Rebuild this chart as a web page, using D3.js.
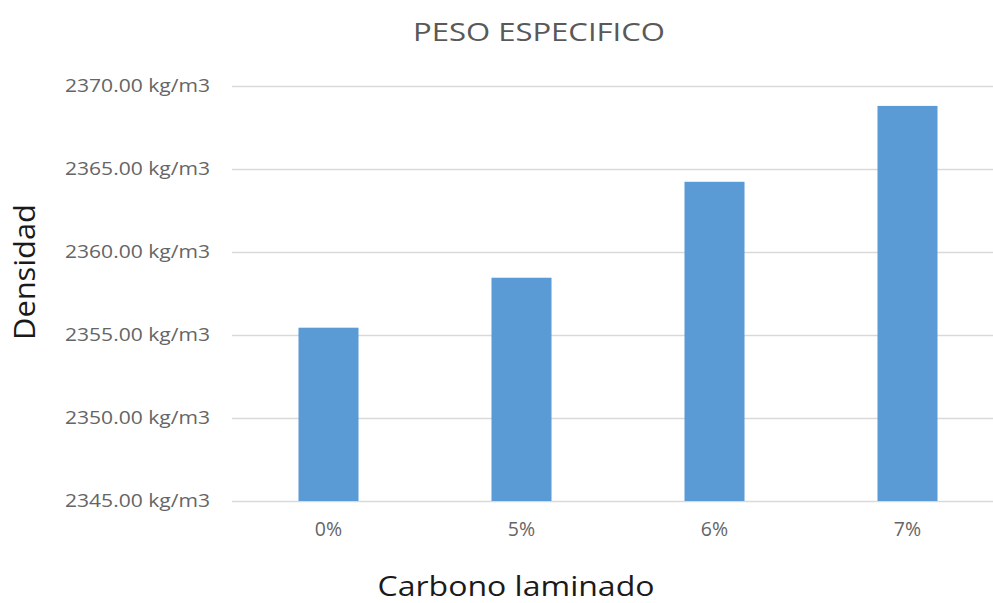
<!DOCTYPE html>
<html>
<head>
<meta charset="utf-8">
<script src="https://cdn.jsdelivr.net/npm/d3@7"></script>
<style>
  html, body { margin: 0; padding: 0; background: #fff; }
  svg { display: block; }
  svg text { font-family: "Open Sans", "Liberation Sans", sans-serif; }
</style>
</head>
<body>
<svg id="chart" width="993" height="603"></svg>
<script>
// Specific weight (density) by laminated carbon content
const categories = ["0%", "5%", "6%", "7%"];
const densities = [2355.44, 2358.45, 2364.23, 2368.8];
const yTicks = [2345, 2350, 2355, 2360, 2365, 2370];

const svg = d3.select("#chart");
const W = 993, H = 603;
const plot = { left: 232, right: 1004, top: 86, bottom: 501 };

const x = d3.scaleBand()
  .domain(categories)
  .range([plot.left, plot.right])
  .paddingInner(0.689)
  .paddingOuter(0.689 / 2);

const y = d3.scaleLinear()
  .domain([2345, 2370])
  .range([plot.bottom, plot.top]);

// value axis with horizontal gridlines
const yAxis = d3.axisLeft(y)
  .tickValues(yTicks)
  .tickSize(-(W - plot.left))
  .tickFormat(d => d3.format(".2f")(d) + " kg/m3");

const gy = svg.append("g")
  .attr("transform", `translate(${plot.left},0)`)
  .call(yAxis);
gy.select(".domain").remove();
gy.selectAll(".tick line").attr("stroke", "#d9d9d9").attr("stroke-width", 1.3);
gy.selectAll(".tick text")
  .attr("fill", "#656565")
  .attr("font-family", "'Open Sans', sans-serif")
  .attr("font-size", 17.5)
  .attr("x", -22)
  .attr("textLength", 145)
  .attr("lengthAdjust", "spacingAndGlyphs");

// bars
svg.append("g")
  .selectAll("rect")
  .data(categories)
  .join("rect")
  .attr("x", d => x(d))
  .attr("width", x.bandwidth())
  .attr("y", (d, i) => y(densities[i]))
  .attr("height", (d, i) => y(2345) - y(densities[i]))
  .attr("fill", "#5b9bd5");

// category axis
const xAxis = d3.axisBottom(x).tickSize(0).tickPadding(21);
const gx = svg.append("g")
  .attr("transform", `translate(0,${plot.bottom})`)
  .call(xAxis);
gx.select(".domain").remove();
gx.selectAll(".tick text")
  .attr("fill", "#656565")
  .attr("font-family", "'Open Sans', sans-serif")
  .attr("font-size", 19.5);

// chart title
svg.append("text")
  .attr("x", 539).attr("y", 41)
  .attr("text-anchor", "middle")
  .attr("fill", "#595959")
  .attr("font-size", 26)
  .attr("textLength", 252)
  .attr("lengthAdjust", "spacingAndGlyphs")
  .text("PESO ESPECIFICO");

// axis titles
svg.append("text")
  .attr("transform", "translate(35,272) rotate(-90)")
  .attr("text-anchor", "middle")
  .attr("fill", "#1a1a1a")
  .attr("font-size", 29)
  .attr("textLength", 136)
  .attr("lengthAdjust", "spacingAndGlyphs")
  .text("Densidad");

svg.append("text")
  .attr("x", 516).attr("y", 596)
  .attr("text-anchor", "middle")
  .attr("fill", "#1a1a1a")
  .attr("font-size", 27)
  .attr("textLength", 277)
  .attr("lengthAdjust", "spacingAndGlyphs")
  .text("Carbono laminado");
</script>
</body>
</html>
